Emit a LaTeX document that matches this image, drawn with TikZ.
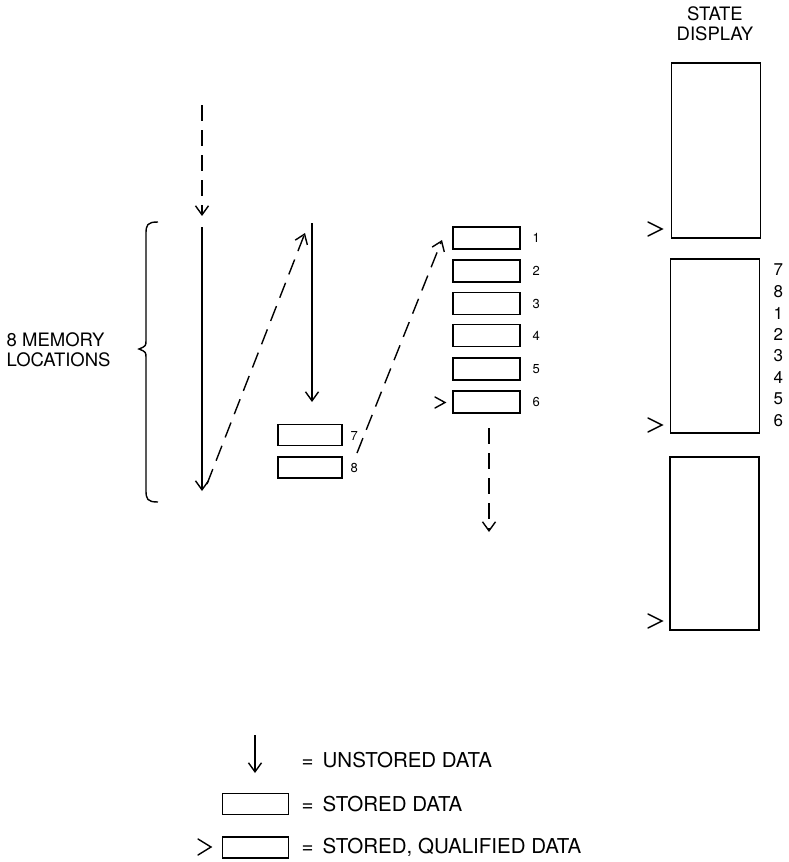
\documentclass[tikz,border=0pt]{standalone}
\usepackage{fontspec}
\setmainfont{TeX Gyre Heros}
\usetikzlibrary{arrows.meta}
\begin{document}
\begin{tikzpicture}[x=1pt,y=-1pt,line width=1.4pt,
  tip/.style={-{Straight Barb[length=9pt,width=13pt,line width=1.4pt]}},
  dsh/.style={dash pattern=on 16pt off 9pt},
  sbox/.style={draw,line width=1.4pt,minimum width=64pt,minimum height=21pt,inner sep=0pt},
  rbox/.style={draw,line width=1.4pt,minimum width=67pt,minimum height=22pt,inner sep=0pt},
  dbox/.style={draw,line width=1.4pt,minimum width=89pt,minimum height=175pt,inner sep=0pt},
  small/.style={font=\fontsize{13}{13}\selectfont,inner sep=0pt},
  mid/.style={font=\fontsize{17}{17}\selectfont,inner sep=0pt},
  big/.style={font=\fontsize{18.5}{19.5}\selectfont,inner sep=0pt,align=center},
  leg/.style={font=\fontsize{20.5}{20.5}\selectfont,inner sep=0pt,anchor=west},
  gt/.style={line width=1.4pt,line cap=round,line join=miter}]
\useasboundingbox (0,0) rectangle (788,862);

% ---- coordinates of connector ends
\coordinate (a0) at (202,105);
\coordinate (a1) at (202,216);
\coordinate (b0) at (202,227);
\coordinate (b1) at (202,491);
\coordinate (c0) at (207,484);
\coordinate (c1) at (305,233);
\coordinate (d0) at (312,223);
\coordinate (d1) at (312,402);
\coordinate (e0) at (357,453);
\coordinate (e1) at (442,240);
\coordinate (f0) at (489,428);
\coordinate (f1) at (489,532);

\draw[tip,dsh] (a0) -- (a1);
\draw[tip] (b0) -- (b1);
\draw[tip,dsh] (c0) -- (c1);
\draw[tip] (d0) -- (d1);
\draw[tip,dsh] (e0) -- (e1);
\draw[tip,dsh] (f0) -- (f1);

% ---- brace and label
\draw[line width=1.4pt] (158,222) .. controls (147,222) and (146,225) .. (146,234) -- (146,340)
  .. controls (146,346) .. (139,349) .. controls (146,352) .. (146,358) -- (146,490)
  .. controls (146,499) and (147,502) .. (158,502);
\node[big,align=left,anchor=west] (mem) at (6,350) {8 MEMORY\\LOCATIONS};

% ---- boxes 7 and 8
\node[sbox] (b7) at (310,435) {};
\node[sbox] (b8) at (310,467.5) {};
\node[small,anchor=west] (l7) at (350,436) {7};
\node[small,anchor=west] (l8) at (350,468) {8};

% ---- right stack
\foreach \i/\y in {1/238,2/271,3/303.5,4/335.5,5/369,6/402}{
  \node[rbox] (r\i) at (486.5,\y) {};
  \node[small,anchor=west] (rl\i) at (532,\y) {\i};
}
\draw[gt] (435,397) -- (445,402.5) -- (435,408);

% ---- state display
\node[big] (title) at (715,24) {STATE\\DISPLAY};
\node[dbox] (s1) at (716,150.5) {};
\node[dbox,minimum height=174pt] (s2) at (715,346) {};
\node[dbox,minimum height=173pt] (s3) at (714.5,543.5) {};
\draw[gt] (648,222) -- (662,229) -- (648,236);
\draw[gt] (648,418) -- (662,425) -- (648,432);
\draw[gt] (648,614) -- (662,621) -- (648,628);
\foreach \n/\y in {7/270,8/291.5,1/313,2/334.5,3/356,4/377.5,5/399,6/420.5}{
  \node[mid,anchor=west] (sn\n) at (773,\y) {\n};
}

% ---- legend
\coordinate (g0) at (255,735);
\coordinate (g1) at (255,773);
\draw[tip] (g0) -- (g1);
\node[leg] (t1) at (301,760) {=\hspace{9pt}UNSTORED DATA};
\node[draw,line width=1.4pt,minimum width=66pt,minimum height=21pt,inner sep=0pt] (lb1) at (255.5,804) {};
\node[leg] (t2) at (301,804) {=\hspace{9pt}STORED DATA};
\node[draw,line width=1.4pt,minimum width=66pt,minimum height=21pt,inner sep=0pt] (lb2) at (255.5,847.5) {};
\draw[gt] (198,839) -- (211,847) -- (198,855);
\node[leg] (t3) at (301,847) {=\hspace{9pt}STORED, QUALIFIED DATA};
\end{tikzpicture}
\end{document}
